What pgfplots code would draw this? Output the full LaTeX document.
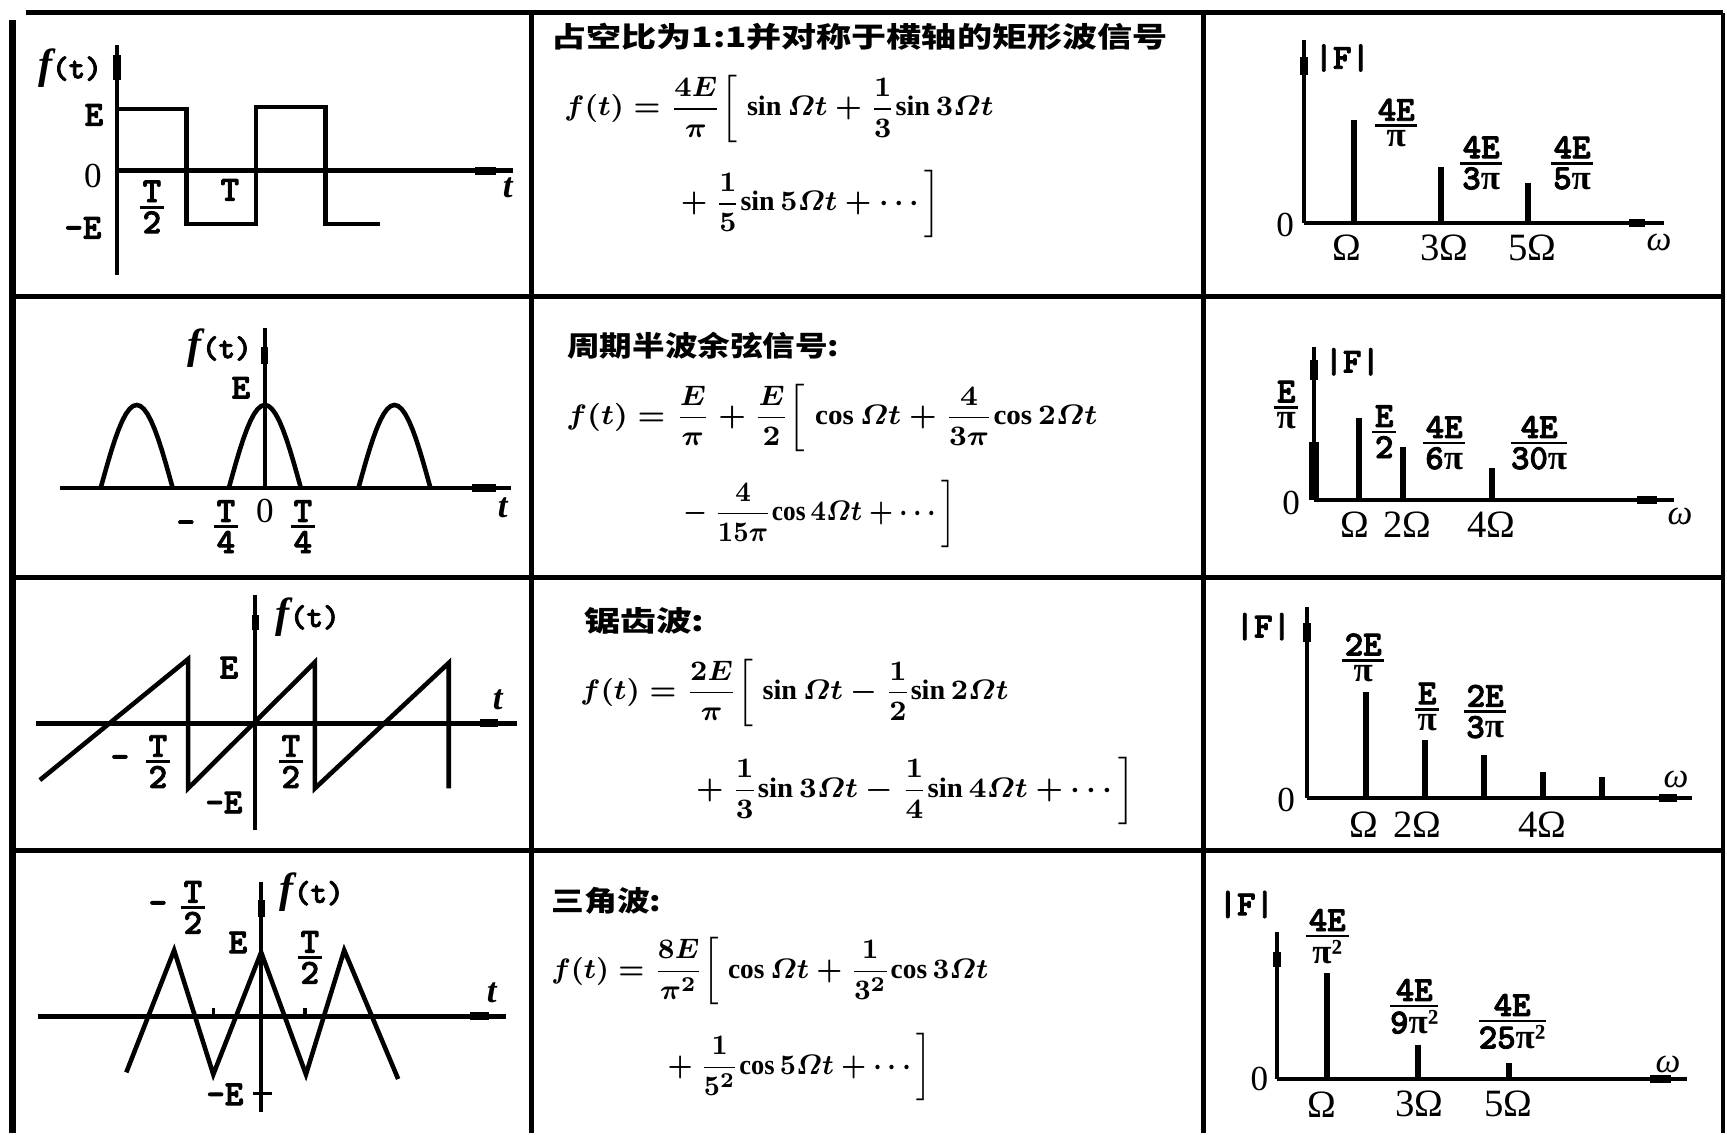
\documentclass[border=0pt]{standalone}
\usepackage{amsmath}
\usepackage{graphicx}
\usepackage{fontspec}
\usepackage{pgfplots}
\pgfplotsset{compat=1.18}
\setmainfont{Liberation Serif}
\newfontfamily\cjk{Noto Sans CJK SC}
\newfontfamily\mono{lmmonolt10-bold.otf}[FakeBold=2.5]

\newcommand\Bpi{{\rmfamily\bfseries π}}
\newcommand\Lab[1]{{\mono\fontsize{10}{10}\selectfont #1}}
\newcommand\Fr[2]{{\mono\fontsize{10}{10}\selectfont$\genfrac{}{}{0.8pt}{1}{\mbox{\kern0.8pt#1\kern0.8pt}}{\mbox{#2}}$}}
\newcommand\Ft{{\fontsize{12}{12}\selectfont\bfseries\itshape f}{\mono\fontsize{9}{9}\selectfont(t)}}
\newcommand\Tlab{{\fontsize{10}{10}\selectfont\bfseries\itshape t}}
\newcommand\Wlab{{\fontsize{10}{10}\selectfont\itshape ω}}
\newcommand\Zr{{\fontsize{10}{10}\selectfont 0}}
\newcommand\Om[1]{{\fontsize{11}{11}\selectfont #1}}
\newcommand\Fm[1]{{\fontsize{8}{9.5}\selectfont\boldmath$#1$}}
\newcommand\sn{\mathrm{sin}\,}
\newcommand\cs{\mathrm{cos}\,}

\pgfplotsset{
  base/.style={xtick=\empty, ytick=\empty, clip=false, enlargelimits=false,
    anchor=south west, axis line style={-},
    every inner x axis line/.append style={-}, every inner y axis line/.append style={-},
    every outer x axis line/.append style={-}, every outer y axis line/.append style={-},
    x axis line style={line width=1.4pt}, y axis line style={line width=1pt}},
  wave/.style={axis lines=middle, base},
  spec/.style={axis x line=bottom, axis y line=left, base},
}

\begin{document}
\begin{tikzpicture}
\useasboundingbox (0,0) rectangle (17.27,11.34);

%---------------- waveforms ----------------
% square wave
\begin{axis}[wave, at={(1.17cm,8.59cm)}, x=0.695cm, y=0.62cm,
  xmin=0, xmax=5.70, ymin=-1.68, ymax=2.03]
\addplot[line width=1.3pt] coordinates {(0,1)(1,1)(1,-0.855)(2,-0.855)(2,1.03)(3,1.03)(3,-0.855)(3.78,-0.855)};
\addplot[line width=2.2pt] coordinates {(5.15,0)(5.45,0)};
\addplot[line width=2pt] coordinates {(0,1.47)(0,1.87)};
\end{axis}

% half-wave cosine
\begin{axis}[wave, at={(0.60cm,6.46cm)}, x=0.36cm, y=0.83cm,
  xmin=-5.69, xmax=6.83, ymin=0, ymax=1.93]
\addplot[line width=1.3pt] coordinates {(-4.56,0)(-4.46,0.156)(-4.36,0.309)(-4.26,0.454)(-4.16,0.588)(-4.06,0.707)(-3.96,0.809)(-3.86,0.891)(-3.76,0.951)(-3.66,0.988)(-3.56,1)(-3.46,0.988)(-3.36,0.951)(-3.26,0.891)(-3.16,0.809)(-3.06,0.707)(-2.96,0.588)(-2.86,0.454)(-2.76,0.309)(-2.66,0.156)(-2.56,0)};
\addplot[line width=1.3pt] coordinates {(-1,0)(-0.9,0.156)(-0.8,0.309)(-0.7,0.454)(-0.6,0.588)(-0.5,0.707)(-0.4,0.809)(-0.3,0.891)(-0.2,0.951)(-0.1,0.988)(0,1)(0.1,0.988)(0.2,0.951)(0.3,0.891)(0.4,0.809)(0.5,0.707)(0.6,0.588)(0.7,0.454)(0.8,0.309)(0.9,0.156)(1,0)};
\addplot[line width=1.3pt] coordinates {(2.6,0)(2.7,0.156)(2.8,0.309)(2.9,0.454)(3.0,0.588)(3.1,0.707)(3.2,0.809)(3.3,0.891)(3.4,0.951)(3.5,0.988)(3.6,1)(3.7,0.988)(3.8,0.951)(3.9,0.891)(4.0,0.809)(4.1,0.707)(4.2,0.588)(4.3,0.454)(4.4,0.309)(4.5,0.156)(4.6,0)};
\addplot[line width=2.2pt] coordinates {(5.75,0)(6.42,0)};
\addplot[line width=2pt] coordinates {(0,1.49)(0,1.70)};
\end{axis}

% sawtooth
\begin{axis}[wave, at={(0.36cm,3.04cm)}, x=0.65cm, y=0.64cm,
  xmin=-3.37, xmax=4.03, ymin=-1.67, ymax=2.0]
\addplot[line width=1.3pt] coordinates {(-3.31,-0.89)(-1.03,1.0)(-1.03,-1.02)(0.92,0.95)(0.92,-1.02)(2.98,0.94)(2.98,-1.02)};
\addplot[line width=2.2pt] coordinates {(3.46,0)(3.74,0)};
\addplot[line width=2pt] coordinates {(0,1.45)(0,1.69)};
\end{axis}

% triangle
\begin{axis}[wave, at={(0.38cm,0.22cm)}, x=0.435cm, y=0.66cm,
  xmin=-5.13, xmax=5.63, ymin=-1.45, ymax=2.03]
\addplot[line width=1.3pt] coordinates {(-3.10,-0.85)(-2.0,1.0)(-1.10,-0.88)(0,0.97)(1.03,-0.88)(1.91,1.0)(3.15,-0.95)};
\addplot[line width=2.2pt] coordinates {(4.80,0)(5.24,0)};
\addplot[line width=2pt] coordinates {(0,1.50)(0,1.76)};
\addplot[line width=1pt] coordinates {(-0.18,-1.17)(0.25,-1.17)};
\addplot[line width=1pt] coordinates {(-1.10,0)(-1.10,0.12)};
\addplot[line width=1pt] coordinates {(1.01,0)(1.01,0.12)};
\end{axis}

%---------------- spectra ----------------
\begin{axis}[spec, at={(13.04cm,9.11cm)}, x=0.435cm, y=1cm,
  xmin=-0.16, xmax=8.11, ymin=0, ymax=1.83]
\addplot[ycomb, line width=1.7pt] coordinates {(1,1.03)(3,0.56)(5,0.40)};
\addplot[line width=2.4pt] coordinates {(7.31,0)(7.68,0)};
\addplot[line width=2.2pt] coordinates {(-0.16,1.48)(-0.16,1.66)};
\end{axis}

\begin{axis}[spec, at={(13.14cm,6.34cm)}, x=0.445cm, y=1cm,
  xmin=0, xmax=8.09, ymin=0, ymax=1.53]
\addplot[ycomb, line width=2.8pt] coordinates {(0,0.58)};
\addplot[ycomb, line width=1.7pt] coordinates {(1,0.82)(2,0.53)(4,0.32)};
\addplot[line width=2.4pt] coordinates {(7.26,0)(7.71,0)};
\addplot[line width=2.2pt] coordinates {(0,1.20)(0,1.40)};
\end{axis}

\begin{axis}[spec, at={(13.07cm,3.36cm)}, x=0.59cm, y=1cm,
  xmin=0, xmax=6.53, ymin=0, ymax=1.91]
\addplot[ycomb, line width=1.7pt] coordinates {(1,1.06)(2,0.58)(3,0.43)(4,0.26)(5,0.21)};
\addplot[line width=2.4pt] coordinates {(5.97,0)(6.27,0)};
\addplot[line width=2.2pt] coordinates {(0,1.56)(0,1.75)};
\end{axis}

\begin{axis}[spec, at={(12.77cm,0.55cm)}, x=0.454cm, y=1cm,
  xmin=-0.11, xmax=8.92, ymin=0, ymax=1.47]
\addplot[ycomb, line width=1.7pt] coordinates {(1,1.06)(3,0.34)(5,0.16)};
\addplot[line width=2.4pt] coordinates {(8.11,0)(8.57,0)};
\addplot[line width=2.2pt] coordinates {(-0.11,1.12)(-0.11,1.27)};
\end{axis}

%---------------- table, labels, text (pixel coordinates) ----------------
\begin{scope}[x=0.01cm, y=-0.01cm, yshift=11.34cm]
\draw[line width=0.05cm] (26,13) -- (1724,13);
\draw[line width=0.07cm] (13,20) -- (13,1134);
\draw[line width=0.045cm] (532,13) -- (532,1134);
\draw[line width=0.045cm] (1204,13) -- (1204,1134);
\draw[line width=0.04cm] (1724,13) -- (1724,1134);
\foreach \yy in {297,578,851} \draw[line width=0.05cm] (13,\yy) -- (1724,\yy);

% row 1 waveform labels
\node at (70,68) {\Ft};
\node at (94,115) {\Lab{E}};
\node at (93,176) {\Zr};
\node at (83,228) {\Lab{-E}};
\node at (152,207) {\Fr{T}{2}};
\node at (230,190) {\Lab{T}};
\node at (508,188) {\Tlab};
% row 2
\node at (220,348) {\Ft};
\node at (241,388) {\Lab{E}};
\node at (186,527) {\Lab{-}};
\node at (226,527) {\Fr{T}{4}};
\node at (265,511) {\Zr};
\node at (303,527) {\Fr{T}{4}};
\node at (503,508) {\Tlab};
% row 3
\node at (308,617) {\Ft};
\node at (229,668) {\Lab{E}};
\node at (120,762) {\Lab{-}};
\node at (158,762) {\Fr{T}{2}};
\node at (291,762) {\Fr{T}{2}};
\node at (224,803) {\Lab{-E}};
\node at (498,700) {\Tlab};
% row 4
\node at (312,893) {\Ft};
\node at (158,908) {\Lab{-}};
\node at (193,908) {\Fr{T}{2}};
\node at (238,943) {\Lab{E}};
\node at (310,958) {\Fr{T}{2}};
\node at (225,1095) {\Lab{-E}};
\node at (492,993) {\Tlab};

% spectra labels
\node at (1343,58) {\Lab{|F|}};
\node at (1397,123) {\Fr{4E}{\Bpi}};
\node at (1482,163) {\Fr{4E}{3\Bpi}};
\node at (1573,163) {\Fr{4E}{5\Bpi}};
\node at (1286,225) {\Zr};
\node at (1348,248) {\Om{Ω}};
\node at (1445,248) {\Om{3Ω}};
\node at (1533,248) {\Om{5Ω}};
\node at (1660,243) {\Wlab};

\node at (1353,362) {\Lab{|F|}};
\node at (1287,405) {\Fr{E}{\Bpi}};
\node at (1385,432) {\Fr{E}{2}};
\node at (1445,443) {\Fr{4E}{6\Bpi}};
\node at (1540,443) {\Fr{4E}{30\Bpi}};
\node at (1292,503) {\Zr};
\node at (1356,525) {\Om{Ω}};
\node at (1408,525) {\Om{2Ω}};
\node at (1492,525) {\Om{4Ω}};
\node at (1681,517) {\Wlab};

\node at (1264,627) {\Lab{|F|}};
\node at (1364,658) {\Fr{2E}{\Bpi}};
\node at (1428,707) {\Fr{E}{\Bpi}};
\node at (1486,712) {\Fr{2E}{3\Bpi}};
\node at (1287,800) {\Zr};
\node at (1365,825) {\Om{Ω}};
\node at (1418,825) {\Om{2Ω}};
\node at (1543,825) {\Om{4Ω}};
\node at (1677,780) {\Wlab};

\node at (1247,905) {\Lab{|F|}};
\node at (1328,937) {\Fr{4E}{{\rmfamily\bfseries π²}}};
\node at (1415,1007) {\Fr{4E}{9{\rmfamily\bfseries π²}}};
\node at (1513,1022) {\Fr{4E}{25{\rmfamily\bfseries π²}}};
\node at (1260,1080) {\Zr};
\node at (1323,1105) {\Om{Ω}};
\node at (1420,1105) {\Om{3Ω}};
\node at (1509,1105) {\Om{5Ω}};
\node at (1669,1065) {\Wlab};

% middle column
\node[anchor=west, inner sep=0] at (551,37) {\resizebox{6.16cm}{\height}{\cjk\bfseries\fontsize{8}{8}\selectfont 占空比为1:1并对称于横轴的矩形波信号}};
\node[anchor=west, inner sep=0] at (564,109) {\resizebox{4.29cm}{\height}{\Fm{f(t)=\dfrac{4E}{\pi}\biggl[\;\sn\varOmega t+\dfrac{1}{3}\sn3\varOmega t}}};
\node[anchor=west, inner sep=0] at (673,204) {\resizebox{2.67cm}{\height}{\Fm{{}+\dfrac{1}{5}\sn5\varOmega t+\cdots\biggr]}}};

\node[anchor=west, inner sep=0] at (567,346) {\resizebox{2.72cm}{\height}{\cjk\bfseries\fontsize{8}{8}\selectfont 周期半波余弦信号:}};
\node[anchor=west, inner sep=0] at (566,418) {\resizebox{5.31cm}{\height}{\Fm{f(t)=\dfrac{E}{\pi}+\dfrac{E}{2}\biggl[\;\cs\varOmega t+\dfrac{4}{3\pi}\cs2\varOmega t}}};
\node[anchor=west, inner sep=0] at (676,514) {\resizebox{2.79cm}{\height}{\Fm{{}-\dfrac{4}{15\pi}\cs4\varOmega t+\cdots\biggr]}}};

\node[anchor=west, inner sep=0] at (584,621) {\resizebox{1.20cm}{\height}{\cjk\bfseries\fontsize{8}{8}\selectfont 锯齿波:}};
\node[anchor=west, inner sep=0] at (580,693) {\resizebox{4.28cm}{\height}{\Fm{f(t)=\dfrac{2E}{\pi}\biggl[\;\sn\varOmega t-\dfrac{1}{2}\sn2\varOmega t}}};
\node[anchor=west, inner sep=0] at (688,791) {\resizebox{4.46cm}{\height}{\Fm{{}+\dfrac{1}{3}\sn3\varOmega t-\dfrac{1}{4}\sn4\varOmega t+\cdots\biggr]}}};

\node[anchor=west, inner sep=0] at (551,901) {\resizebox{1.10cm}{\height}{\cjk\bfseries\fontsize{8}{8}\selectfont 三角波:}};
\node[anchor=west, inner sep=0] at (551,972) {\resizebox{4.37cm}{\height}{\Fm{f(t)=\dfrac{8E}{\pi^2}\biggl[\;\cs\varOmega t+\dfrac{1}{3^2}\cs3\varOmega t}}};
\node[anchor=west, inner sep=0] at (660,1068) {\resizebox{2.71cm}{\height}{\Fm{{}+\dfrac{1}{5^2}\cs5\varOmega t+\cdots\biggr]}}};
\end{scope}
\end{tikzpicture}
\end{document}
